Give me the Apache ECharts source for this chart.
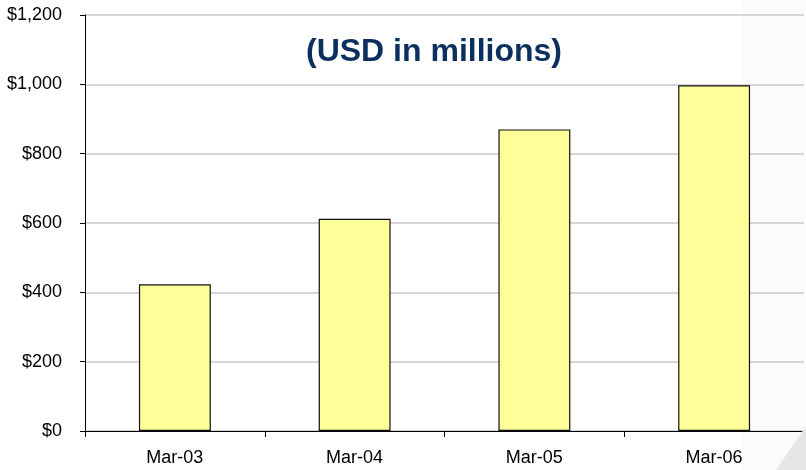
<!DOCTYPE html>
<html>
<head>
    <meta charset="utf-8">
    <title>ECharts</title>
    <script src="https://cdn.jsdelivr.net/npm/echarts@6/dist/echarts.min.js"></script>
    <style>
        html, body { margin: 0; padding: 0; background: #fff; }
    </style>
</head>
<body>
<div id="main" style="width: 806px;height:470px;"></div>
<script type="text/javascript">
    // data
    var categories = ['Mar-03', 'Mar-04', 'Mar-05', 'Mar-06'];
    var values = [423, 612, 870, 997];
    var titleText = '(USD in millions)';

    var myChart = echarts.init(document.getElementById('main'));

    function money(v) {
        return '$' + v.toLocaleString('en-US');
    }

    var option = {
        animation: false,
        textStyle: { fontFamily: 'Liberation Sans, Arial, sans-serif' },
        title: {
            text: titleText,
            left: 301,
            top: 31,
            textStyle: {
                color: '#0b2f5f',
                fontSize: 32,
                fontWeight: 'bold',
                fontFamily: 'Liberation Sans, Arial, sans-serif'
            }
        },
        graphic: [
            // faint band + page curl at the right edge
            { type: 'rect', z: -10, shape: { x: 742, y: 0, width: 64, height: 470 }, style: { fill: '#fbfbfb' } },
            { type: 'polygon', z: 100, shape: { points: [[806, 426], [806, 470], [776, 470]] }, style: { fill: '#e6e6e6' } }
        ],
        grid: {
            left: 85,
            right: 2,
            top: 15,
            bottom: 39
        },
        xAxis: {
            type: 'category',
            data: categories,
            axisLine: { lineStyle: { color: '#000', width: 1 } },
            axisTick: { show: true, length: 6, lineStyle: { color: '#000' } },
            axisLabel: { color: '#000', fontSize: 18, margin: 18 }
        },
        yAxis: {
            type: 'value',
            min: 0,
            max: 1200,
            interval: 200,
            axisLine: { show: true, lineStyle: { color: '#000', width: 1 } },
            axisTick: { show: true, length: 5, lineStyle: { color: '#000' } },
            axisLabel: { color: '#000', fontSize: 18, margin: 23, formatter: money },
            splitLine: { show: true, lineStyle: { color: '#c8c8c8', width: 1.5 } }
        },
        series: [{
            type: 'bar',
            data: values,
            barWidth: '40%',
            itemStyle: { color: '#ffff99', borderColor: '#111', borderWidth: 1.2 }
        }]
    };

    myChart.setOption(option);
</script>
</body>
</html>
